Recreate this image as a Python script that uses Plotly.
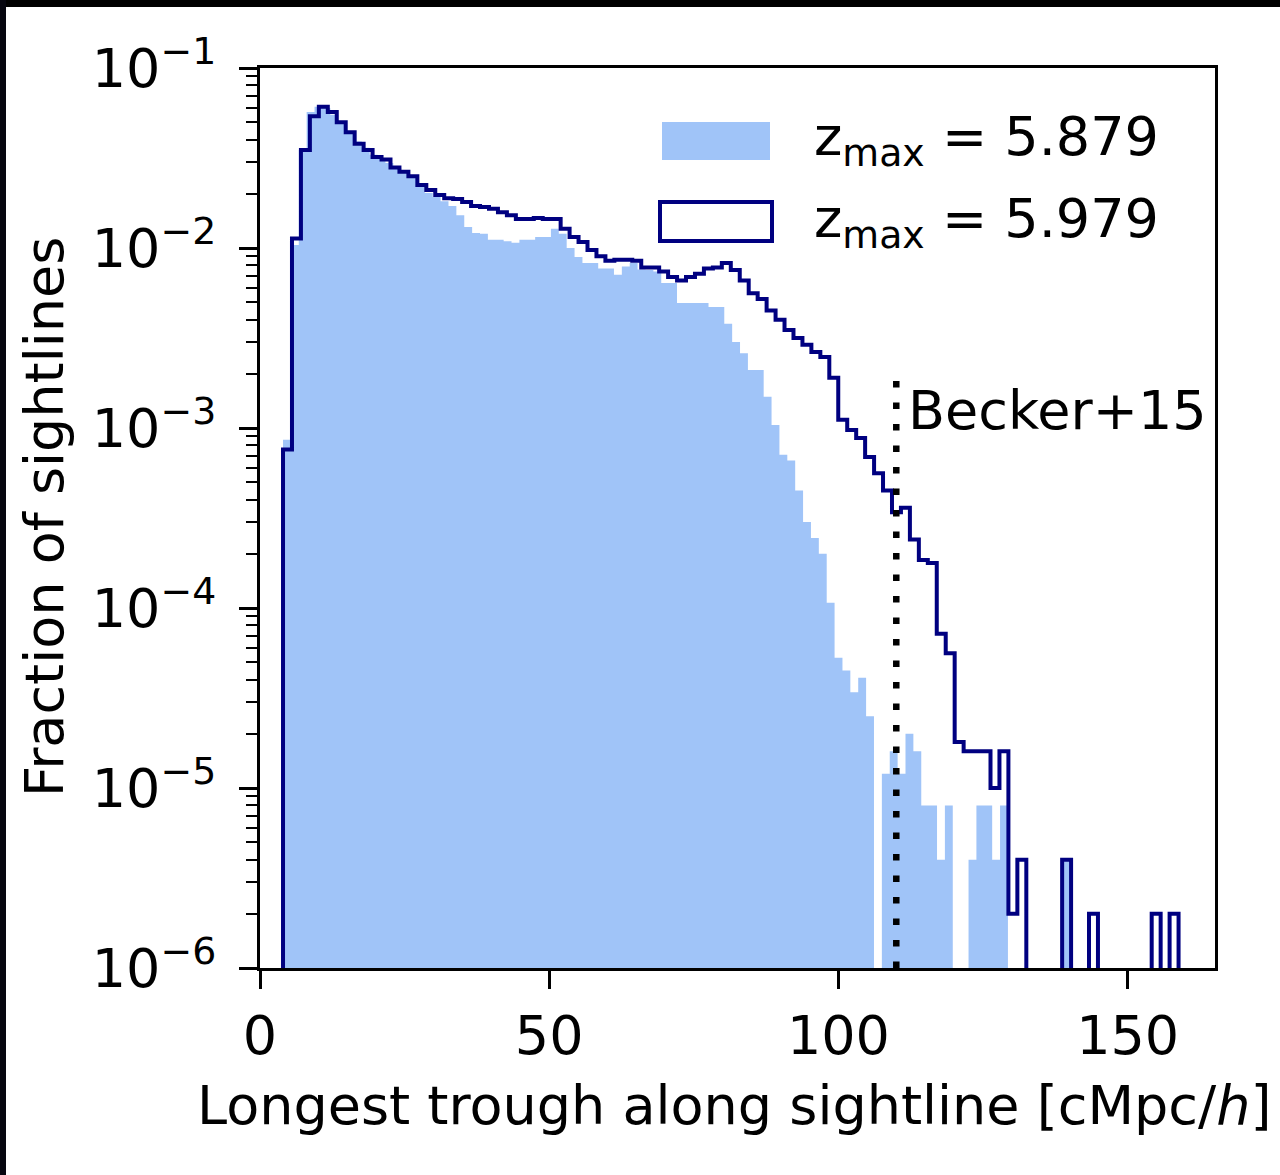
import numpy as np
import plotly.graph_objects as go

# ---------------- data ----------------
n_bins = 100
range_5879 = (3.98, 140.2)   # histogram range (cMpc/h), z_max = 5.879
range_5979 = (3.98, 158.8)   # histogram range (cMpc/h), z_max = 5.979

frac_5879 = [
    8.6e-4, 1.04e-2, 3.5e-2, 5.7e-2, 6.1e-2, 6.0e-2, 5.5e-2, 4.9e-2, 4.4e-2, 3.9e-2,
    3.6e-2, 3.3e-2, 3.16e-2, 2.97e-2, 2.78e-2, 2.64e-2, 2.48e-2, 2.27e-2, 2.02e-2, 1.92e-2,
    1.82e-2, 1.71e-2, 1.52e-2, 1.31e-2, 1.21e-2, 1.2e-2, 1.11e-2, 1.11e-2, 1.09e-2, 1.07e-2,
    1.11e-2, 1.11e-2, 1.15e-2, 1.15e-2, 1.28e-2, 1.2e-2, 1.0e-2, 8.9e-3, 8.25e-3, 8.25e-3,
    7.7e-3, 7.7e-3, 7.1e-3, 7.9e-3, 8.25e-3, 7.6e-3, 7.55e-3, 7.4e-3, 6.4e-3, 6.4e-3,
    4.95e-3, 4.95e-3, 4.95e-3, 4.95e-3, 4.7e-3, 4.7e-3, 3.8e-3, 3.0e-3, 2.6e-3, 2.1e-3,
    2.1e-3, 1.49e-3, 1.04e-3, 7.1e-4, 6.6e-4, 4.5e-4, 3.0e-4, 2.45e-4, 2.0e-4, 1.07e-4,
    5.3e-5, 4.5e-5, 3.4e-5, 4.1e-5, 2.5e-5, 0, 1.2e-5, 1.6e-5, 1.2e-5, 2.0e-5,
    1.6e-5, 8e-6, 8e-6, 4e-6, 8e-6, 0, 0, 4e-6, 8e-6, 8e-6,
    4e-6, 8e-6, 0, 0, 0, 0, 0, 0, 0, 4e-6,
]

frac_5979 = [
    7.6e-4, 1.13e-2, 3.5e-2, 5.4e-2, 6.1e-2, 5.7e-2, 5.0e-2, 4.4e-2, 3.8e-2, 3.5e-2,
    3.2e-2, 3.1e-2, 2.8e-2, 2.65e-2, 2.5e-2, 2.24e-2, 2.1e-2, 1.97e-2, 1.89e-2, 1.87e-2,
    1.8e-2, 1.71e-2, 1.69e-2, 1.65e-2, 1.58e-2, 1.52e-2, 1.45e-2, 1.45e-2, 1.47e-2, 1.45e-2,
    1.45e-2, 1.28e-2, 1.15e-2, 1.08e-2, 9.75e-3, 9.0e-3, 8.5e-3, 8.6e-3, 8.6e-3, 8.5e-3,
    7.8e-3, 7.8e-3, 7.4e-3, 6.9e-3, 6.6e-3, 6.9e-3, 7.2e-3, 7.7e-3, 7.8e-3, 8.25e-3,
    7.55e-3, 6.6e-3, 5.6e-3, 5.2e-3, 4.5e-3, 4.0e-3, 3.5e-3, 3.16e-3, 2.9e-3, 2.64e-3,
    2.48e-3, 1.9e-3, 1.11e-3, 9.75e-4, 8.8e-4, 6.9e-4, 5.6e-4, 4.5e-4, 3.4e-4, 3.6e-4,
    2.4e-4, 1.85e-4, 1.78e-4, 7.2e-5, 5.6e-5, 1.8e-5, 1.6e-5, 1.6e-5, 1.6e-5, 1.0e-5,
    1.6e-5, 2e-6, 4e-6, 0, 0, 0, 0, 4e-6, 0, 0,
    2e-6, 0, 0, 0, 0, 0, 0, 2e-6, 0, 2e-6,
]

becker_x = 110.0
becker_label = "Becker+15"
legend_labels = ["z<sub>max</sub> = 5.879", "z<sub>max</sub> = 5.979"]
x_tickvals = [0, 50, 100, 150]
y_tickvals = [1e-1, 1e-2, 1e-3, 1e-4, 1e-5, 1e-6]
y_ticktext = ["10<sup>\u22121</sup>", "10<sup>\u22122</sup>", "10<sup>\u22123</sup>",
              "10<sup>\u22124</sup>", "10<sup>\u22125</sup>", "10<sup>\u22126</sup>"]
x_title = "Longest trough along sightline [cMpc/<i>h</i>]"
y_title = "Fraction of sightlines"

# ---------------- styling ----------------
FILL = "#a0c4f8"
NAVY = "#000080"
FONT = "DejaVu Sans"
FS = 54
W, H = 1280, 1175
L, R, T, B = 260, 65, 68, 207
PW, PH = W - L - R, H - T - B


def px(xp):
    return (xp - L) / PW


def py(yp):
    return (T + PH - yp) / PH


def step_path(rng, vals, floor=1e-12):
    edges = np.linspace(rng[0], rng[1], n_bins + 1)
    v = [val if val > 0 else floor for val in vals]
    xs = [edges[0]] + list(edges[:-1]) + [edges[-1], edges[-1]]
    ys = [floor] + v + [v[-1], floor]
    return xs, ys


fig = go.Figure()

xs1, ys1 = step_path(range_5879, frac_5879)
fig.add_trace(go.Scatter(x=xs1, y=ys1, mode="lines", fill="toself",
                         fillcolor=FILL, line=dict(width=0, shape="hv", color=FILL),
                         hoverinfo="skip", showlegend=False))

xs2, ys2 = step_path(range_5979, frac_5979)
fig.add_trace(go.Scatter(x=xs2, y=ys2, mode="lines",
                         line=dict(width=4, shape="hv", color=NAVY),
                         hoverinfo="skip", showlegend=False))

shapes = [
    # Becker+15 dotted line
    dict(type="line", xref="x", yref="paper", x0=becker_x, x1=becker_x, y0=0, y1=py(381),
         line=dict(color="black", width=6.5, dash="6.5px,15px"), layer="above"),
    # legend handles
    dict(type="rect", xref="paper", yref="paper", x0=px(662), x1=px(770), y0=py(160), y1=py(122),
         fillcolor=FILL, line=dict(width=0), layer="above"),
    dict(type="rect", xref="paper", yref="paper", x0=px(660), x1=px(772), y0=py(241), y1=py(202),
         fillcolor="white", line=dict(width=4, color=NAVY), layer="above"),
    # dark screenshot frame
    dict(type="rect", xref="paper", yref="paper", x0=px(0), x1=px(1280), y0=py(7), y1=py(0),
         fillcolor="black", line=dict(width=0), layer="above"),
    dict(type="rect", xref="paper", yref="paper", x0=px(0), x1=px(6), y0=py(1175), y1=py(0),
         fillcolor="#06060f", line=dict(width=0), layer="above"),
]

annotations = [
    dict(text=legend_labels[0], xref="paper", yref="paper", x=px(812), y=py(140),
         xanchor="left", yanchor="middle", showarrow=False, font=dict(size=FS, family=FONT, color="black")),
    dict(text=legend_labels[1], xref="paper", yref="paper", x=px(812), y=py(222),
         xanchor="left", yanchor="middle", showarrow=False, font=dict(size=FS, family=FONT, color="black")),
    dict(text=becker_label, xref="paper", yref="paper", x=px(906), y=py(410),
         xanchor="left", yanchor="middle", showarrow=False, font=dict(size=FS, family=FONT, color="black")),
    dict(text=x_title, xref="paper", yref="paper", x=px(734), y=py(1105),
         xanchor="center", yanchor="middle", showarrow=False, font=dict(size=FS, family=FONT, color="black")),
    dict(text=y_title, xref="paper", yref="paper", x=px(44), y=py(517), textangle=-90,
         xanchor="center", yanchor="middle", showarrow=False, font=dict(size=FS, family=FONT, color="black")),
]

fig.update_layout(
    width=W, height=H,
    margin=dict(l=L, r=R, t=T, b=B, autoexpand=False),
    paper_bgcolor="white", plot_bgcolor="white",
    font=dict(family=FONT, size=FS, color="black"),
    shapes=shapes, annotations=annotations,
    showlegend=False,
)

fig.update_xaxes(range=[0, 165.1], tickvals=x_tickvals, ticks="outside", ticklen=18, tickwidth=3,
                 tickcolor="black", showline=True, linewidth=3, linecolor="black", mirror=True,
                 showgrid=False, zeroline=False, tickfont=dict(size=FS, family=FONT, color="black"))
fig.update_yaxes(type="log", range=[-6, -1], tickvals=y_tickvals, ticktext=y_ticktext,
                 ticks="outside", ticklen=18, tickwidth=3, tickcolor="black", ticklabelstandoff=12,
                 minor=dict(ticks="outside", ticklen=11, tickwidth=2, tickcolor="black", dtick="D1", showgrid=False),
                 showline=True, linewidth=3, linecolor="black", mirror=True,
                 showgrid=False, zeroline=False, tickfont=dict(size=FS, family=FONT, color="black"))

fig.write_html("out.html")
